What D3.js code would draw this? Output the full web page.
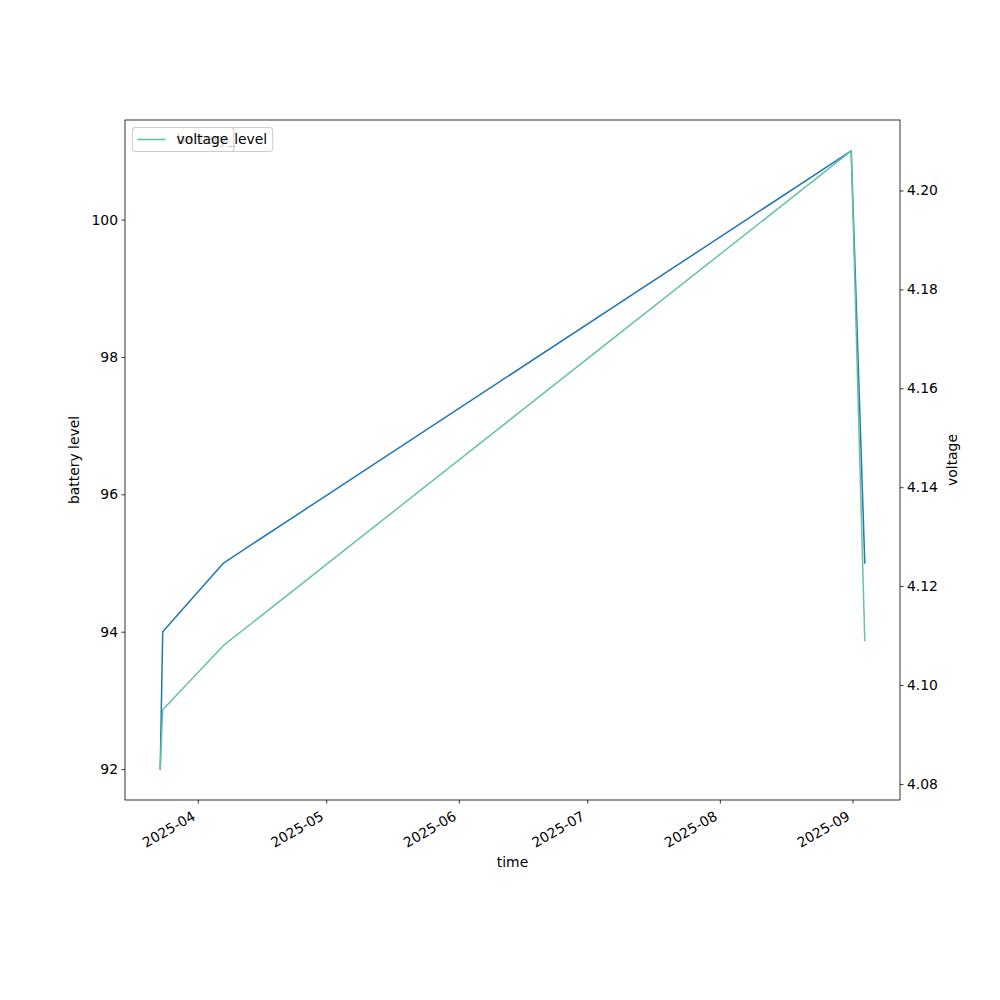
<!DOCTYPE html>
<html>
<head>
<meta charset="utf-8">
<script src="https://cdn.jsdelivr.net/npm/d3@7"></script>
<style>
  html, body { margin: 0; padding: 0; background: #fff; }
  svg { display: block; font-family: "DejaVu Sans", sans-serif; }
  svg text { font-family: "DejaVu Sans", sans-serif; }
</style>
</head>
<body>
<svg id="chart" width="1000" height="1000"></svg>
<script>
// ---- data ----
const times = ["2025-03-23T05:00:00Z", "2025-03-23T19:00:00Z", "2025-04-07T00:00:00Z", "2025-08-31T17:00:00Z", "2025-09-03T21:00:00Z"];
const batteryLevel = [92, 94, 95, 101, 95];
const voltage = [4.083, 4.095, 4.108, 4.208, 4.109];
const xTickDates = ["2025-04-01", "2025-05-01", "2025-06-01", "2025-07-01", "2025-08-01", "2025-09-01"];
const leftTicks = [92, 94, 96, 98, 100];
const rightTicks = [4.08, 4.10, 4.12, 4.14, 4.16, 4.18, 4.20];
const seriesNames = ["battery_level", "voltage"];
const seriesColors = ["#1f77b4", "#66c2a5"];

// ---- layout ----
const L = 125, R = 900, T = 120, B = 800;
const FS = 13.9;
const FONT = "'DejaVu Sans', sans-serif";
const svg = d3.select("#chart");

const dates = times.map(t => new Date(t));
function padded(ext, isDate) {
  const a = +ext[0], b = +ext[1], m = (b - a) * 0.05;
  return isDate ? [new Date(a - m), new Date(b + m)] : [a - m, b + m];
}
const x = d3.scaleUtc().domain(padded(d3.extent(dates), true)).range([L, R]);
const yL = d3.scaleLinear().domain(padded(d3.extent(batteryLevel))).range([B, T]);
const yR = d3.scaleLinear().domain(padded(d3.extent(voltage))).range([B, T]);

function styleAxis(g) {
  g.attr("font-family", FONT).attr("font-size", FS);
  g.select(".domain").remove();
  g.selectAll(".tick line").attr("stroke", "#000").attr("stroke-width", 0.8);
  g.selectAll(".tick text").attr("fill", "#000").style("font-size", FS + "px").style("font-family", FONT);
}

// ---- axes ----
const fmt = d3.utcFormat("%Y-%m");
const xAxis = d3.axisBottom(x).tickValues(xTickDates.map(d => new Date(d + "T00:00:00Z")))
  .tickSize(3.5).tickPadding(3.5).tickFormat(fmt);
const gx = svg.append("g").attr("transform", `translate(0,${B})`).call(xAxis);
styleAxis(gx);
gx.selectAll(".tick text")
  .attr("text-anchor", "end").attr("dy", null).attr("y", null)
  .attr("transform", "translate(-2,19) rotate(-30)");

const gl = svg.append("g").attr("transform", `translate(${L},0)`)
  .call(d3.axisLeft(yL).tickValues(leftTicks).tickSize(3.5).tickPadding(3.5).tickFormat(d3.format("d")));
styleAxis(gl);

const gr = svg.append("g").attr("transform", `translate(${R},0)`)
  .call(d3.axisRight(yR).tickValues(rightTicks).tickSize(3.5).tickPadding(3.5).tickFormat(d3.format(".2f")));
styleAxis(gr);

// axis labels
svg.append("text").attr("x", (L + R) / 2).attr("y", 867).attr("text-anchor", "middle")
  .style("font-size", FS + "px").text("time");
svg.append("text").attr("transform", `translate(79,${(T + B) / 2}) rotate(-90)`)
  .attr("text-anchor", "middle").style("font-size", FS + "px").text("battery level");
svg.append("text").attr("transform", `translate(957,${(T + B) / 2}) rotate(-90)`)
  .attr("text-anchor", "middle").style("font-size", FS + "px").text("voltage");

// ---- lines & legends ----
function legend(name, color) {
  const g = svg.append("g");
  const bx = 132.5, by = 127.5, h = 24;
  const txt = g.append("text").attr("x", 176.5).attr("y", by + h / 2 + 4.5)
    .style("font-size", FS + "px").attr("fill", "#000").text(name);
  const w = txt.node().getComputedTextLength() + 176.5 + 5.5 - bx;
  g.insert("rect", "text").attr("x", bx).attr("y", by).attr("width", w).attr("height", h)
    .attr("rx", 2.8).attr("fill", "#fff").attr("fill-opacity", 0.8)
    .attr("stroke", "#cccccc").attr("stroke-width", 1);
  g.insert("line", "text").attr("x1", 137.6).attr("x2", 165.4).attr("y1", by + h / 2).attr("y2", by + h / 2)
    .attr("stroke", color).attr("stroke-width", 1.5);
}

const series = [batteryLevel, voltage];
const scales = [yL, yR];
series.forEach((vals, i) => {
  const line = d3.line().x((d, j) => x(dates[j])).y(d => scales[i](d));
  svg.append("path").datum(vals).attr("d", line).attr("fill", "none")
    .attr("stroke", seriesColors[i]).attr("stroke-width", 1.5)
    .attr("stroke-linejoin", "round").attr("stroke-linecap", "square");
  legend(seriesNames[i], seriesColors[i]);
});

// frame
svg.append("rect").attr("x", L).attr("y", T).attr("width", R - L).attr("height", B - T)
  .attr("fill", "none").attr("stroke", "#000").attr("stroke-width", 0.8);
</script>
</body>
</html>
